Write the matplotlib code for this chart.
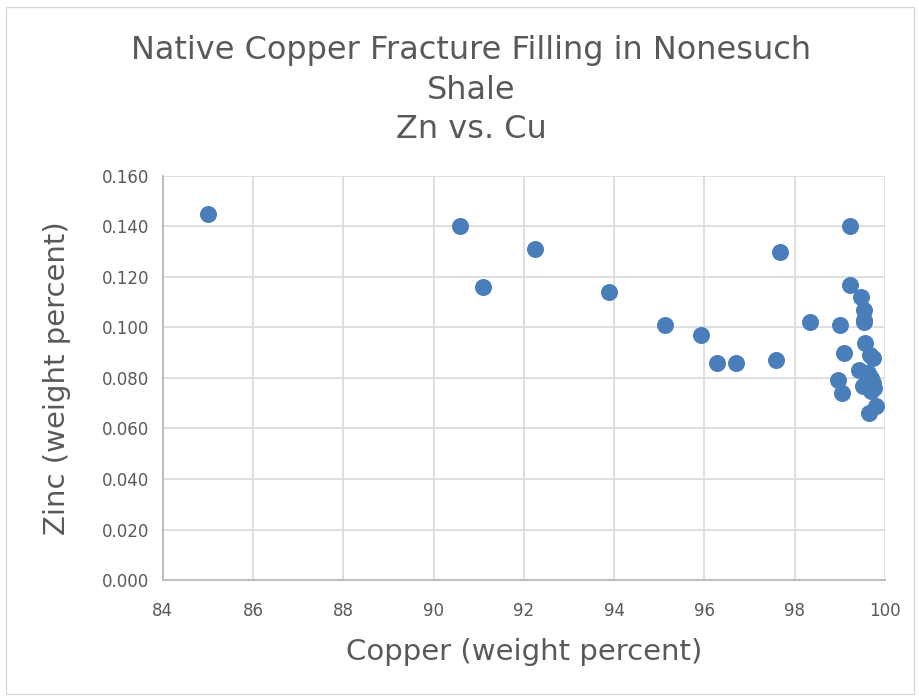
import matplotlib
matplotlib.use("Agg")
import matplotlib.pyplot as plt
from matplotlib.patches import Rectangle

# Data
copper = [85.0, 90.58, 91.09, 92.24, 93.89, 95.13, 95.93, 96.27, 96.69, 97.58,
          97.67, 98.33, 99.22, 99.22, 99.0, 99.09, 98.96, 99.04, 99.47, 99.53,
          99.53, 99.53, 99.56, 99.67, 99.73, 99.42, 99.51, 99.62, 99.69, 99.73,
          99.69, 99.76, 99.80, 99.64]
zinc = [0.145, 0.140, 0.116, 0.131, 0.114, 0.101, 0.097, 0.086, 0.086, 0.087,
        0.130, 0.102, 0.140, 0.117, 0.101, 0.090, 0.079, 0.074, 0.112, 0.107,
        0.103, 0.102, 0.094, 0.089, 0.088, 0.083, 0.077, 0.082, 0.080, 0.078,
        0.075, 0.076, 0.069, 0.066]

x_ticks = [84, 86, 88, 90, 92, 94, 96, 98, 100]
y_ticks = [0.0, 0.02, 0.04, 0.06, 0.08, 0.10, 0.12, 0.14, 0.16]

text_color = "#595959"
grid_color = "#d9d9d9"

fig = plt.figure(figsize=(9.2, 6.98), dpi=100)
ax = fig.add_axes([0.177, 0.169, 0.785, 0.579])

ax.scatter(copper, zinc, s=150, color="#4a7ebb", zorder=3, linewidths=0)

ax.set_xlim(84, 100)
ax.set_ylim(0, 0.16)
ax.set_xticks(x_ticks)
ax.set_yticks(y_ticks)
ax.set_yticklabels([f"{v:.3f}" for v in y_ticks])
ax.grid(True, color=grid_color, linewidth=1.2, zorder=0)
ax.tick_params(length=0, labelsize=12, colors=text_color)
ax.tick_params(axis="x", pad=16)
ax.tick_params(axis="y", pad=10)

for side in ["top", "right"]:
    ax.spines[side].set_visible(False)
for side in ["left", "bottom"]:
    ax.spines[side].set_color("#bfbfbf")
    ax.spines[side].set_linewidth(1.5)

ax.set_xlabel("Copper (weight percent)", fontsize=21, color=text_color, labelpad=13)
ax.set_ylabel("Zinc (weight percent)", fontsize=21, color=text_color, labelpad=22)

fig.text(0.512, 0.871, "Native Copper Fracture Filling in Nonesuch\nShale\nZn vs. Cu",
         ha="center", va="center", fontsize=23, color=text_color, linespacing=1.36)

# light border around the chart area
fig.patches.append(Rectangle((0.006, 0.006), 0.988, 0.984, transform=fig.transFigure,
                             fill=False, edgecolor="#d9d9d9", linewidth=1))

fig.savefig("out.png", dpi=100)
